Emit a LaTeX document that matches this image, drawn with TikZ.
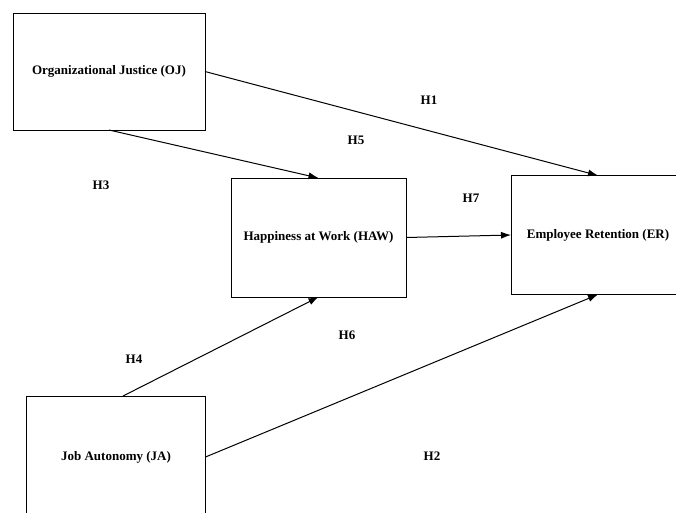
\documentclass[tikz,border=0pt]{standalone}
\usepackage{fontspec}
\setmainfont{Liberation Serif}
\usetikzlibrary{arrows.meta}
\tikzset{construct/.style={
  rectangle,
  draw,line width=1pt,
  inner sep=0pt,outer sep=0pt,
  font=\bfseries\fontsize{13}{15}\selectfont}}
\tikzset{hypo/.style={font=\bfseries\fontsize{13}{15}\selectfont}}
\tikzset{>={Latex[length=10pt,width=7pt]}}

\begin{document}
\begin{tikzpicture}[x=1pt,y=-1pt,line width=1pt]
  \useasboundingbox (0,0) rectangle (676,512);
  \foreach \n/\p/\w/\h/\l in {
      OJ/{(109,71.5)}/192pt/117pt/{Organizational Justice (OJ)},
      HAW/{(318.5,237.5)}/175pt/119pt/{Happiness at Work (HAW)},
      ER/{(598,235)}/174pt/119pt/{Employee Retention (ER)},
      JA/{(116,457)}/179pt/122pt/{Job Autonomy (JA)}}
    \node[construct,minimum width=\w,minimum height=\h] (\n) at \p {\l};
  \coordinate (JAtop) at ([xshift=7pt]JA.north);
  \foreach \n/\x/\y in {H1/429/100,H5/356/140,H3/101/185,H7/471/198,
      H6/347/335,H4/134/359,H2/432/456}
    \node[hypo] (lab\n) at (\x,\y) {\n};
  \foreach \m/\n in {OJ.east/ER.north,OJ.south/HAW.north,HAW.east/ER.west,
      JAtop/HAW.south,JA.east/ER.south}
    \draw[->] (\m) -- (\n);
\end{tikzpicture}
\end{document}
